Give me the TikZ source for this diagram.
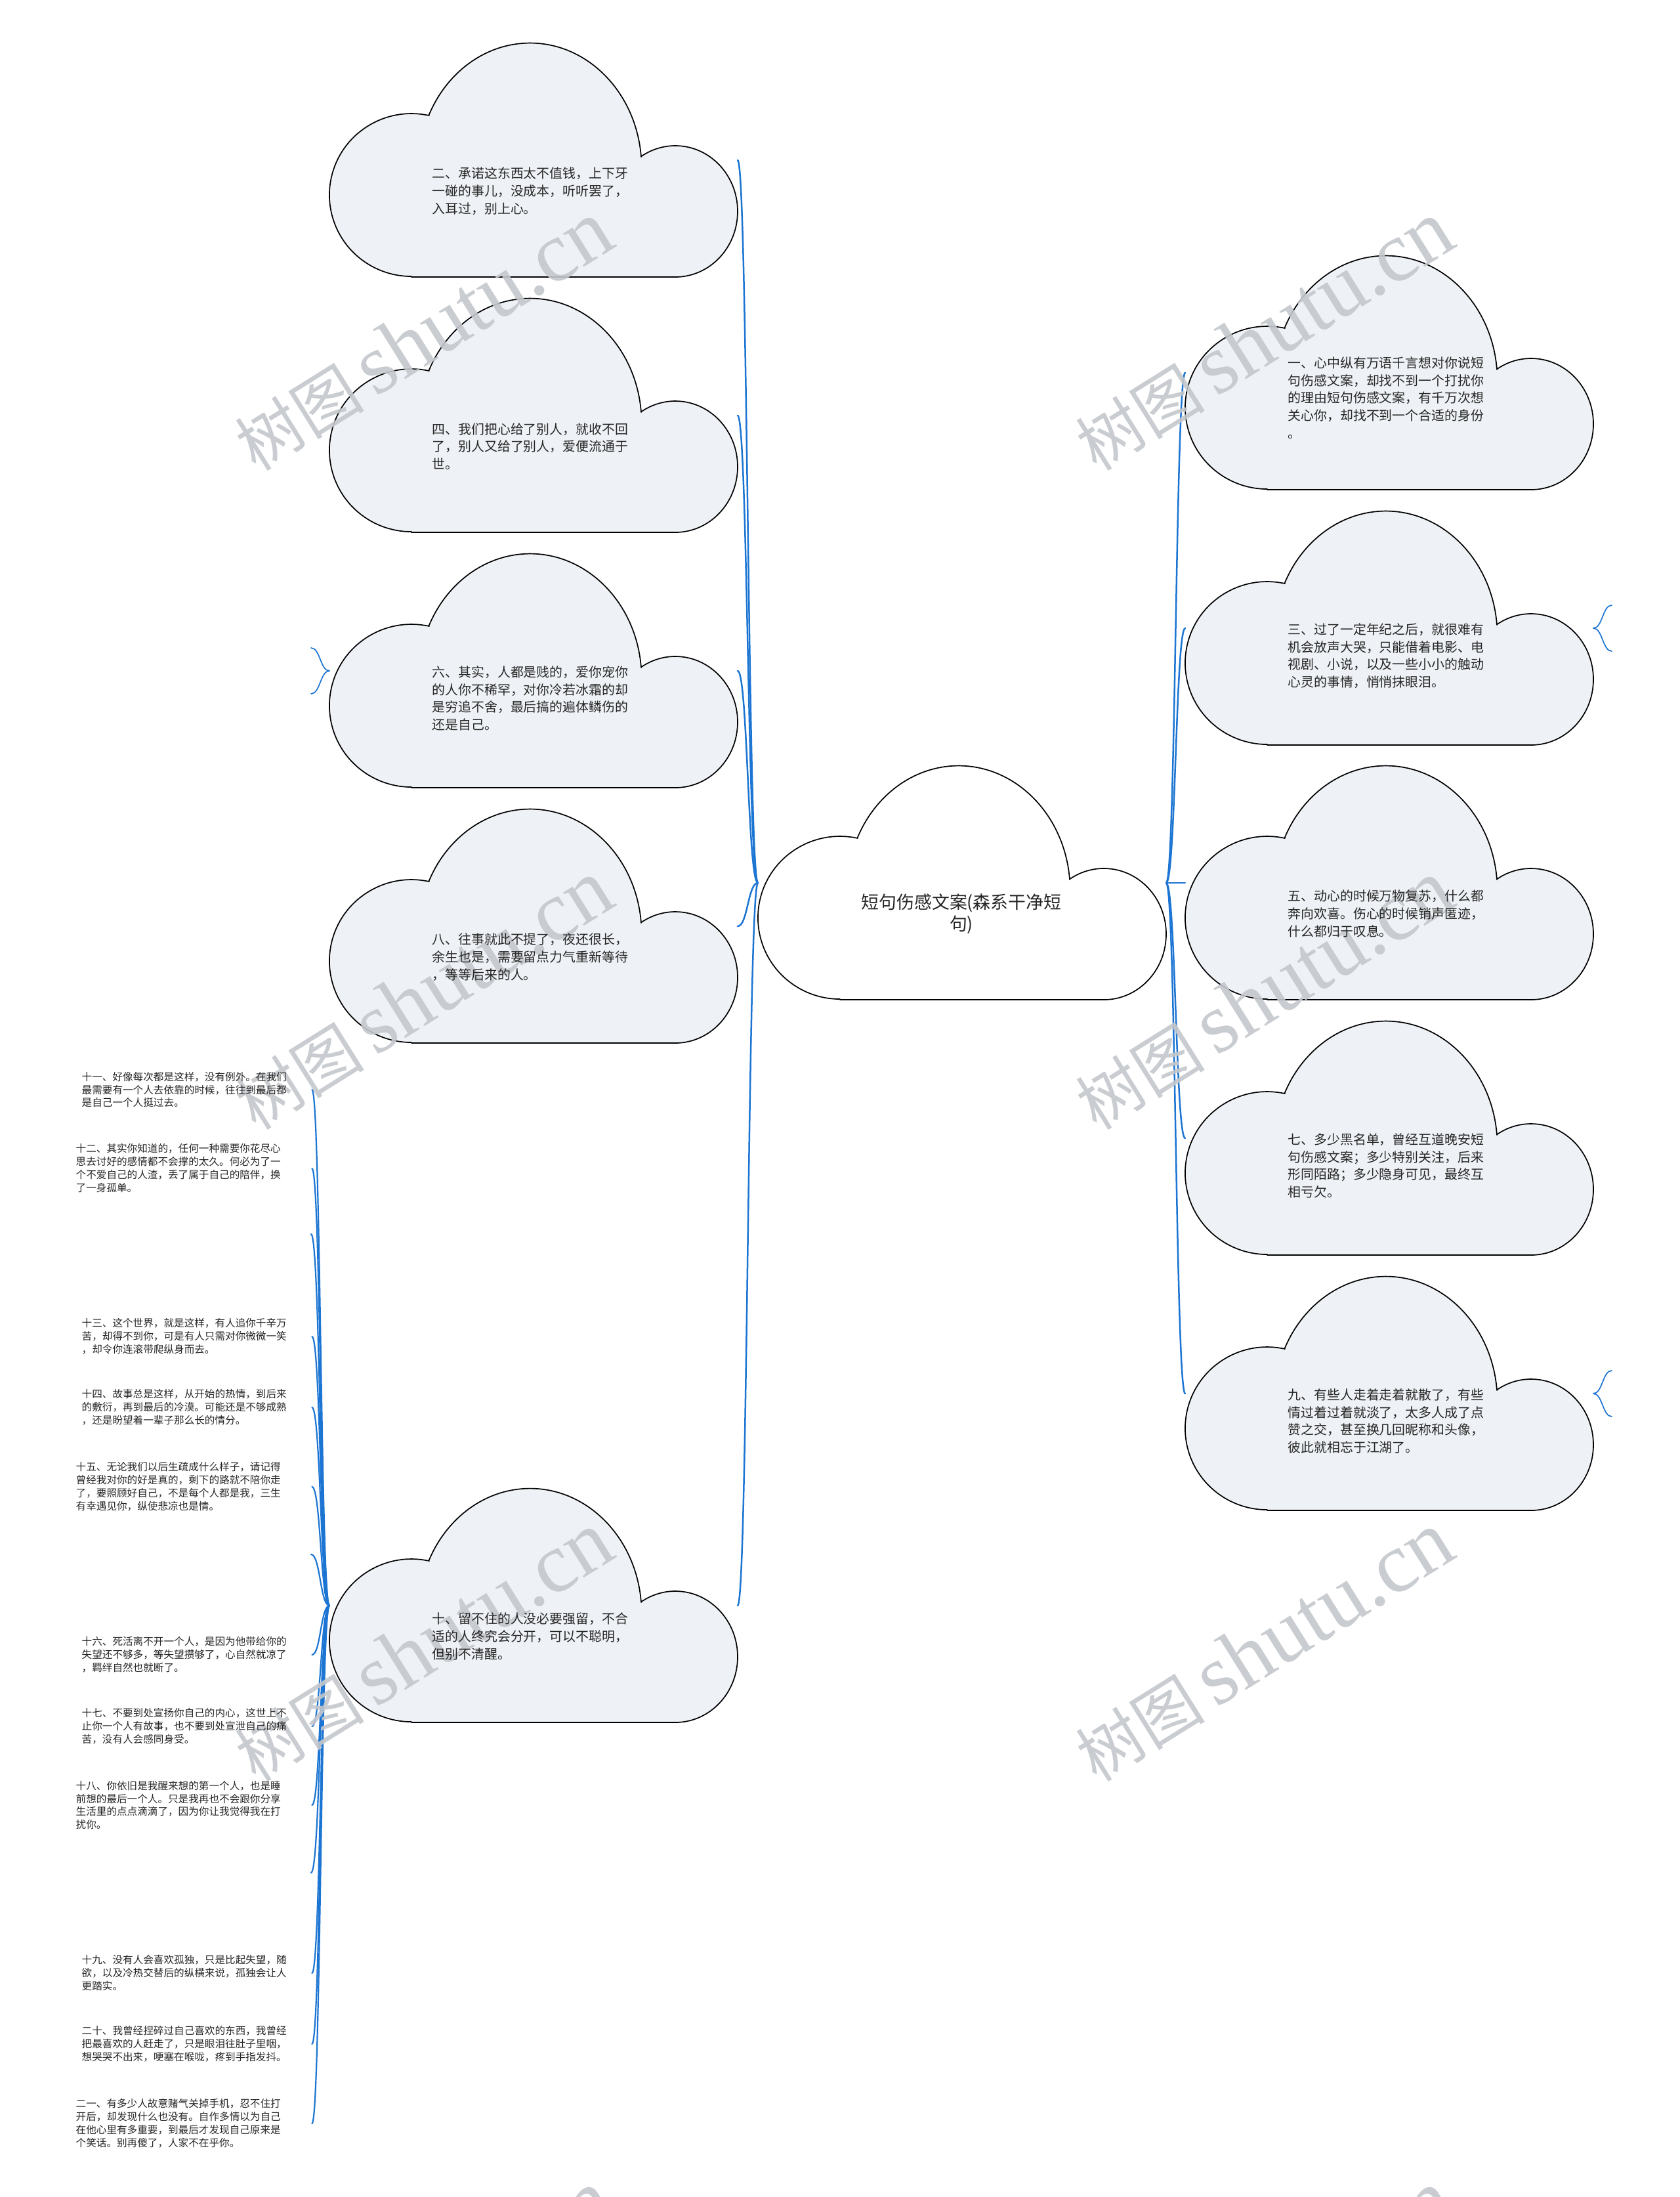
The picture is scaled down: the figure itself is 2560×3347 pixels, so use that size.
\documentclass[tikz,border=0pt]{standalone}
\usepackage{fontspec}
\newfontfamily\cjk{Noto Sans CJK SC}
\newfontfamily\wmserif{Liberation Serif}
\usetikzlibrary{calc}
\pgfdeclarelayer{under}
\pgfdeclarelayer{marks}
\pgfsetlayers{under,marks,main}
\definecolor{linkblue}{RGB}{28,117,210}
\definecolor{cloudfill}{RGB}{238,241,245}
\definecolor{inkdark}{RGB}{38,38,38}
\definecolor{wmgray}{RGB}{196,199,203}
\newcommand{\wmtext}{{\cjk\fontsize{28pt}{30pt}\selectfont 树图}\hspace{0.5em}{\wmserif\fontsize{37pt}{40pt}\selectfont shutu.cn}}
\tikzset{
  cloudshape/.pic={
    \path[pic actions] (125,356) -- (527,356)
      arc[start angle=90, end angle=-123, x radius=95, y radius=100]
      -- (475,173)
      arc[start angle=-5, end angle=-155, x radius=170, y radius=190]
      -- (152,110)
      arc[start angle=-77.5, end angle=-270, x radius=125, y radius=124]
      -- cycle;
  },
  cloudline/.style={draw=black, line width=0.17mm, fill=cloudfill, line join=round},
  cloudwhite/.style={draw=black, line width=0.17mm, fill=white, line join=round},
  cbox/.style={minimum width=62.2mm, minimum height=35.6mm, inner sep=0pt, outer sep=0pt},
  ctext/.style={anchor=west, align=left, inner sep=0pt, text=inkdark, font=\cjk\fontsize{5.66pt}{7.6pt}\selectfont},
  mtext/.style={align=center, inner sep=0pt, text=inkdark, font=\cjk\fontsize{7.65pt}{9.5pt}\selectfont},
  leaf/.style={anchor=west, align=left, inner sep=0pt, text width=35mm, text=inkdark, font=\cjk\fontsize{4.44pt}{5.69pt}\selectfont},
  leafwide/.style={leaf, text width=35.9mm},
  hconn/.style={to path={.. controls ($(\tikztostart)!0.5!(\tikztotarget|-\tikztostart)$) and ($(\tikztotarget)!0.5!(\tikztostart|-\tikztotarget)$) .. (\tikztotarget)}},
  link/.style={draw=linkblue, line width=0.25mm, line cap=round, hconn},
  leaflink/.style={draw=linkblue, line width=0.22mm, line cap=round, hconn},
  bracearm/.style={draw=linkblue, line width=0.17mm, line cap=round, hconn},
  wm/.style={rotate=32, inner sep=0pt, text=wmgray, text opacity=0.9},
}
\begin{document}
\begin{tikzpicture}[x=0.1mm, y=-0.1mm]
\useasboundingbox (0,0) rectangle (2560,3347);
\begin{pgfonlayer}{under}
\fill[white] (0,0) rectangle (2560,3347);
\end{pgfonlayer}

% ---------- cloud frames (named nodes) ----------
\node[cbox] (c0) at (1466,1345) {};
\node[cbox] (c2) at (813,244) {};
\node[cbox] (c4) at (813,633) {};
\node[cbox] (c6) at (813,1022) {};
\node[cbox] (c8) at (813,1411) {};
\node[cbox] (c10) at (813,2446) {};
\node[cbox] (c1) at (2117,568) {};
\node[cbox] (c3) at (2117,957) {};
\node[cbox] (c5) at (2117,1345) {};
\node[cbox] (c7) at (2117,1734) {};
\node[cbox] (c9) at (2117,2123) {};

% ---------- free ends ----------
\coordinate (b6a) at (474,987);
\coordinate (b6b) at (474,1057);
\coordinate (b3a) at (2456,922);
\coordinate (b3b) at (2456,992);
\coordinate (b9a) at (2456,2088);
\coordinate (b9b) at (2456,2158);
\coordinate (e1) at (474,1880);
\coordinate (e2) at (474,2368);
\coordinate (e3) at (474,2853);

% ---------- leaf texts ----------
\node[leaf] (l11) at (124,1660) {十一、好像每次都是这样，没有例外。在我们\\最需要有一个人去依靠的时候，往往到最后都\\是自己一个人挺过去。};
\node[leafwide] (l12) at (115,1780) {十二、其实你知道的，任何一种需要你花尽心\\思去讨好的感情都不会撑的太久。何必为了一\\个不爱自己的人渣，丢了属于自己的陪伴，换\\了一身孤单。};
\node[leaf] (l13) at (124,2036) {十三、这个世界，就是这样，有人追你千辛万\\苦，却得不到你，可是有人只需对你微微一笑\\，却令你连滚带爬纵身而去。};
\node[leaf] (l14) at (124,2144) {十四、故事总是这样，从开始的热情，到后来\\的敷衍，再到最后的冷漠。可能还是不够成熟\\，还是盼望着一辈子那么长的情分。};
\node[leafwide] (l15) at (115,2265) {十五、无论我们以后生疏成什么样子，请记得\\曾经我对你的好是真的，剩下的路就不陪你走\\了，要照顾好自己，不是每个人都是我，三生\\有幸遇见你，纵使悲凉也是情。};
\node[leaf] (l16) at (124,2521) {十六、死活离不开一个人，是因为他带给你的\\失望还不够多，等失望攒够了，心自然就凉了\\，羁绊自然也就断了。};
\node[leaf] (l17) at (124,2630) {十七、不要到处宣扬你自己的内心，这世上不\\止你一个人有故事，也不要到处宣泄自己的痛\\苦，没有人会感同身受。};
\node[leafwide] (l18) at (115,2750) {十八、你依旧是我醒来想的第一个人，也是睡\\前想的最后一个人。只是我再也不会跟你分享\\生活里的点点滴滴了，因为你让我觉得我在打\\扰你。};
\node[leaf] (l19) at (124,3006) {十九、没有人会喜欢孤独，只是比起失望，随\\欲，以及冷热交替后的纵横来说，孤独会让人\\更踏实。};
\node[leaf] (l20) at (124,3114) {二十、我曾经捏碎过自己喜欢的东西，我曾经\\把最喜欢的人赶走了，只是眼泪往肚子里咽，\\想哭哭不出来，哽塞在喉咙，疼到手指发抖。};
\node[leafwide] (l21) at (115,3235) {二一、有多少人故意赌气关掉手机，忍不住打\\开后，却发现什么也没有。自作多情以为自己\\在他心里有多重要，到最后才发现自己原来是\\个笑话。别再傻了，人家不在乎你。};

% ---------- cloud texts ----------
\node[mtext] (t0) at (1465,1392) {短句伤感文案(森系干净短\\句)};
\node[ctext] (t2) at (658,291) {二、承诺这东西太不值钱，上下牙\\一碰的事儿，没成本，听听罢了，\\入耳过，别上心。};
\node[ctext] (t4) at (658,680) {四、我们把心给了别人，就收不回\\了，别人又给了别人，爱便流通于\\世。};
\node[ctext] (t6) at (658,1064) {六、其实，人都是贱的，爱你宠你\\的人你不稀罕，对你冷若冰霜的却\\是穷追不舍，最后搞的遍体鳞伤的\\还是自己。};
\node[ctext] (t8) at (658,1458) {八、往事就此不提了，夜还很长，\\余生也是，需要留点力气重新等待\\，等等后来的人。};
\node[ctext] (t10) at (658,2493) {十、留不住的人没必要强留，不合\\适的人终究会分开，可以不聪明，\\但别不清醒。};
\node[ctext] (t1) at (1962,606) {一、心中纵有万语千言想对你说短\\句伤感文案，却找不到一个打扰你\\的理由短句伤感文案，有千万次想\\关心你，却找不到一个合适的身份\\。};
\node[ctext] (t3) at (1962,999) {三、过了一定年纪之后，就很难有\\机会放声大哭，只能借着电影、电\\视剧、小说，以及一些小小的触动\\心灵的事情，悄悄抹眼泪。};
\node[ctext] (t5) at (1962,1392) {五、动心的时候万物复苏，什么都\\奔向欢喜。伤心的时候销声匿迹，\\什么都归于叹息。};
\node[ctext] (t7) at (1962,1776) {七、多少黑名单，曾经互道晚安短\\句伤感文案；多少特别关注，后来\\形同陌路；多少隐身可见，最终互\\相亏欠。};
\node[ctext] (t9) at (1962,2165) {九、有些人走着走着就散了，有些\\情过着过着就淡了，太多人成了点\\赞之交，甚至换几回昵称和头像，\\彼此就相忘于江湖了。};

% ---------- cloud shapes and connectors (under layer) ----------
\begin{pgfonlayer}{under}
\pic[cloudwhite] at (c0.north west) {cloudshape};
\foreach \c in {c2,c4,c6,c8,c10,c1,c3,c5,c7,c9}{
  \pic[cloudline] at (\c.north west) {cloudshape};
}
\foreach \c in {c2,c4,c6,c8,c10}{ \draw[link] (c0.west) to (\c.east); }
\foreach \c in {c1,c3,c5,c7,c9}{ \draw[link] (c0.east) to (\c.west); }
\foreach \c in {l11,l12,l13,l14,l15,l16,l17,l18,l19,l20,l21}{ \draw[leaflink] (c10.west) to (\c.east); }
\foreach \c in {e1,e2,e3}{ \draw[leaflink] (c10.west) to (\c); }
\draw[bracearm] (c6.west) to (b6a);
\draw[bracearm] (c6.west) to (b6b);
\draw[bracearm] (c3.east) to (b3a);
\draw[bracearm] (c3.east) to (b3b);
\draw[bracearm] (c9.east) to (b9a);
\draw[bracearm] (c9.east) to (b9b);
\end{pgfonlayer}

% ---------- watermark (between shapes and texts) ----------
\begin{pgfonlayer}{marks}
\node[wm] (w1) at (645,512) {\wmtext};
\node[wm] (w2) at (1926,512) {\wmtext};
\node[wm] (w3) at (645,1516) {\wmtext};
\node[wm] (w4) at (1926,1516) {\wmtext};
\node[wm] (w5) at (645,2509) {\wmtext};
\node[wm] (w6) at (1926,2509) {\wmtext};
\node[wm] (w7) at (645,3512) {\wmtext};
\node[wm] (w8) at (1926,3512) {\wmtext};
\end{pgfonlayer}
\end{tikzpicture}
\end{document}
